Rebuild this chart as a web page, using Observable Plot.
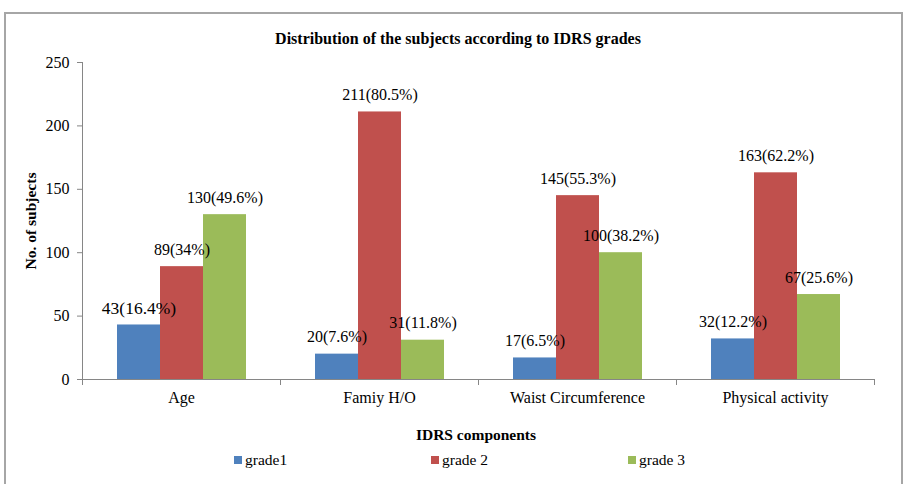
<!DOCTYPE html>
<html>
<head>
<meta charset="utf-8">
<script src="https://cdn.jsdelivr.net/npm/d3@7"></script>
<script src="https://cdn.jsdelivr.net/npm/@observablehq/plot@0.6"></script>
<style>
  body { margin: 0; background: #fff; font-family: "Liberation Serif", "Times New Roman", serif; }
  #wrap { position: relative; width: 913px; height: 484px; overflow: hidden; }
  #border { position: absolute; left: 4px; top: 12px; width: 899px; height: 480px; border: 2px solid #a6a6a6; box-sizing: border-box; }
  #title { position: absolute; top: 30px; left: 0; width: 916px; text-align: center; font-weight: bold; font-size: 16px; color: #000; }
  #chart { position: absolute; top: 50px; left: 0; }
  #chart svg, #chart svg text { font-family: "Liberation Serif", "Times New Roman", serif !important; }
  #xlabel { position: absolute; top: 426px; left: 0; width: 952px; text-align: center; font-weight: bold; font-size: 15.5px; }
  #legend { position: absolute; top: 451px; left: 234px; display: flex; font-size: 15.5px; }
  .item { width: 197px; display: flex; align-items: center; }
  .sw { width: 8px; height: 8px; margin-right: 3px; }
  g[aria-label="y-axis label"] text { font-weight: bold; font-size: 15.5px; }
</style>
</head>
<body>
<div id="wrap">
  <div id="border"></div>
  <div id="title">Distribution of the subjects according to IDRS grades</div>
  <div id="chart"></div>
  <div id="xlabel">IDRS components</div>
  <div id="legend"></div>
</div>
<script>
const categories = ["Age", "Famiy H/O", "Waist Circumference", "Physical activity"];
const grades = ["grade1", "grade 2", "grade 3"];
const grade1 = [43, 20, 17, 32];
const grade2 = [89, 211, 145, 163];
const grade3 = [130, 31, 100, 67];
const pct1 = ["16.4%", "7.6%", "6.5%", "12.2%"];
const pct2 = ["34%", "80.5%", "55.3%", "62.2%"];
const pct3 = ["49.6%", "11.8%", "38.2%", "25.6%"];
const colors = ["#4F81BD", "#C0504D", "#9BBB59"];
const yTicks = [0, 50, 100, 150, 200, 250];

const series = [grade1, grade2, grade3];
const pcts = [pct1, pct2, pct3];
const rows = [];
categories.forEach((c, i) => {
  grades.forEach((g, j) => {
    rows.push({cat: c, grade: g, value: series[j][i], pct: pcts[j][i]});
  });
});

const axisColor = "#868686";
const chart = Plot.plot({
  width: 913,
  height: 370,
  marginTop: 12,
  marginBottom: 41,
  marginLeft: 81,
  marginRight: 39,
  style: {fontFamily: "Liberation Serif, Times New Roman, serif", fontSize: "16px", color: "#000", background: "transparent"},
  fx: {domain: categories, padding: 0, label: null},
  x: {domain: grades, paddingInner: 0, paddingOuter: 0.755, axis: null},
  y: {domain: [0, 250], ticks: yTicks, label: null},
  color: {domain: grades, range: colors},
  marks: [
    Plot.barY(rows, {fx: "cat", x: "grade", y: "value", fill: "grade"}),
    Plot.text(rows.filter(d => !(d.cat === categories[0] && d.grade === grades[0])), {fx: "cat", x: "grade", y: "value", text: d => `${d.value}(${d.pct})`, dy: -17, fill: "#000", fontSize: 16}),
    Plot.text(rows.filter(d => d.cat === categories[0] && d.grade === grades[0]), {fx: "cat", x: "grade", y: "value", text: d => `${d.value}(${d.pct})`, dy: -17, fill: "#000", fontSize: 17.5}),
    Plot.ruleY([0], {stroke: axisColor}),
    Plot.frame({anchor: "left", facetAnchor: "left", stroke: axisColor}),
    Plot.frame({anchor: "left", insetTop: 317, insetBottom: -5, stroke: axisColor}),
    Plot.frame({anchor: "right", insetTop: 317, insetBottom: -5, stroke: axisColor}),
    Plot.axisY({ticks: yTicks, tickSize: 5, tickPadding: 8, stroke: axisColor, fill: "#000", fontSize: 16, label: "No. of subjects", labelAnchor: "center", labelOffset: 58, labelArrow: "none"}),
    Plot.axisFx({anchor: "bottom", tickSize: 0, tickPadding: 12, label: null, fontSize: 16})
  ]
});
document.getElementById("chart").appendChild(chart);

const legend = document.getElementById("legend");
grades.forEach((g, j) => {
  const it = document.createElement("div");
  it.className = "item";
  const sw = document.createElement("span");
  sw.className = "sw";
  sw.style.background = colors[j];
  const t = document.createElement("span");
  t.textContent = g;
  it.appendChild(sw); it.appendChild(t);
  legend.appendChild(it);
});
</script>
</body>
</html>
